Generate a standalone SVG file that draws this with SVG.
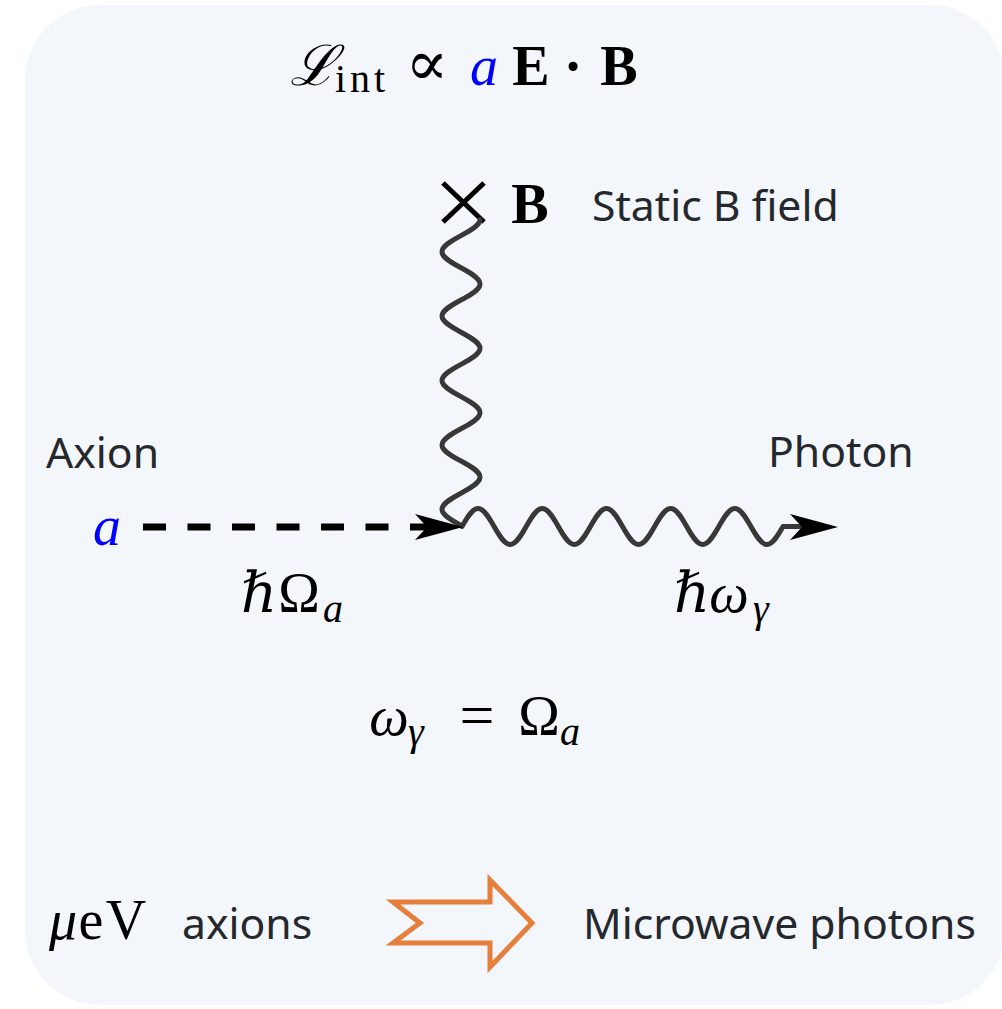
<svg xmlns="http://www.w3.org/2000/svg" width="1002" height="1009" viewBox="0 0 1002 1009">
<style>
.sans{font-family:"Noto Sans","Open Sans","DejaVu Sans",sans-serif;font-size:42.7px;fill:#25282c}
.m{font-family:"Liberation Serif","DejaVu Serif",serif;font-size:56px;fill:#000;text-anchor:middle}
.i{font-style:italic}
.b{font-weight:bold}
.sub{font-size:40px}
.blue{fill:#0000ff}
.wave{fill:none;stroke:#383838;stroke-width:5;stroke-linecap:round;stroke-linejoin:round}
.dash{fill:none;stroke:#000;stroke-width:7;stroke-dasharray:23 21.5}
.ah{fill:#000}
</style>
<defs>
<path id="ah" d="M0,0 L-48,-13 L-36,0 L-48,13 Z"/>
</defs>
<rect x="25" y="5" width="980" height="1000" rx="75" ry="75" fill="#f3f6fb"/>

<g id="lagrangian">
<text class="m i" x="313" y="85">ℒ</text>
<text class="m sub" x="360" y="92" textLength="50">int</text>
<text class="m" x="427" y="85" style="font-size:64px;font-weight:300">∝</text>
<text class="m i blue" x="484" y="85">a</text>
<text class="m b" x="531" y="85">E</text>
<text class="m b" x="573" y="85">·</text>
<text class="m b" x="619" y="85">B</text>
</g>

<g id="static-field">
<g stroke="#000" stroke-width="5" stroke-linecap="butt">
<line x1="443" y1="183" x2="484" y2="222"/>
<line x1="484" y1="183" x2="443" y2="222"/>
</g>
<text class="m b" x="530" y="223">B</text>
<text class="sans" x="592" y="221">Static B field</text>
</g>

<g id="axion">
<text class="sans" x="46" y="468">Axion</text>
<text class="m i blue" x="107" y="545">a</text>
<text class="m i" x="259" y="612">ℏ</text>
<text class="m" x="299" y="612">Ω</text>
<text class="m i sub" x="333" y="622">a</text>
</g>

<g id="photon">
<text class="sans" x="768" y="467">Photon</text>
<text class="m i" x="692" y="612">ℏ</text>
<text class="m i" x="729" y="612">ω</text>
<text class="m i sub" x="761" y="622">γ</text>
</g>

<g id="resonance">
<text class="m i" x="389" y="735">ω</text>
<text class="m i sub" x="416" y="745">γ</text>
<text class="m" x="477" y="736" style="font-size:62px">=</text>
<text class="m" x="539" y="735">Ω</text>
<text class="m i sub" x="570" y="745">a</text>
</g>

<g id="conversion">
<text class="m i" x="63" y="939">μ</text>
<text class="m" x="91" y="939">e</text>
<text class="m" x="126" y="939">V</text>
<text class="sans" x="182" y="939">axions</text>
<polygon points="393,902 490,902 490,880 532,923 490,967 490,943 393,943 420,923" fill="none" stroke="#e57f3b" stroke-width="5"/>
<text class="sans" x="583" y="939">Microwave photons</text>
</g>

<g id="connectors">
<path class="dash" d="M143,527 H435"/>
<path class="wave" d="M480,219.5 c0,5.83 -9.27,10.85 -19,16.1 s-19,10.27 -19,16.1 s9.27,10.85 19,16.1 s19,10.27 19,16.1 s-9.27,10.85 -19,16.1 s-19,10.27 -19,16.1 s9.27,10.85 19,16.1 s19,10.27 19,16.1 s-9.27,10.85 -19,16.1 s-19,10.27 -19,16.1 s9.27,10.85 19,16.1 s19,10.27 19,16.1 s-9.27,10.85 -19,16.1 s-19,10.27 -19,16.1 s9.27,10.85 19,16.1 s19,10.27 19,16.1 s-9.27,10.85 -19,16.1 s-19,10.27 -19,16.1 s9.27,10.85 19,16.1"/>
<path class="wave" d="M462,526.5 c5.23,-9.22 10.24,-18 16.05,-18 s10.82,8.78 16.05,18 s10.24,18 16.05,18 s10.82,-8.78 16.05,-18 s10.24,-18 16.05,-18 s10.82,8.78 16.05,18 s10.24,18 16.05,18 s10.82,-8.78 16.05,-18 s10.24,-18 16.05,-18 s10.82,8.78 16.05,18 s10.24,18 16.05,18 s10.82,-8.78 16.05,-18 s10.24,-18 16.05,-18 s10.82,8.78 16.05,18 s10.24,18 16.05,18 s10.82,-8.78 16.05,-18 s10.24,-18 16.05,-18 s10.82,8.78 16.05,18 s10.24,18 16.05,18 s10.82,-8.78 16.05,-18 L800,526.5"/>
<use href="#ah" class="ah" x="463" y="527"/>
<use href="#ah" class="ah" x="838" y="527"/>
</g>
</svg>
